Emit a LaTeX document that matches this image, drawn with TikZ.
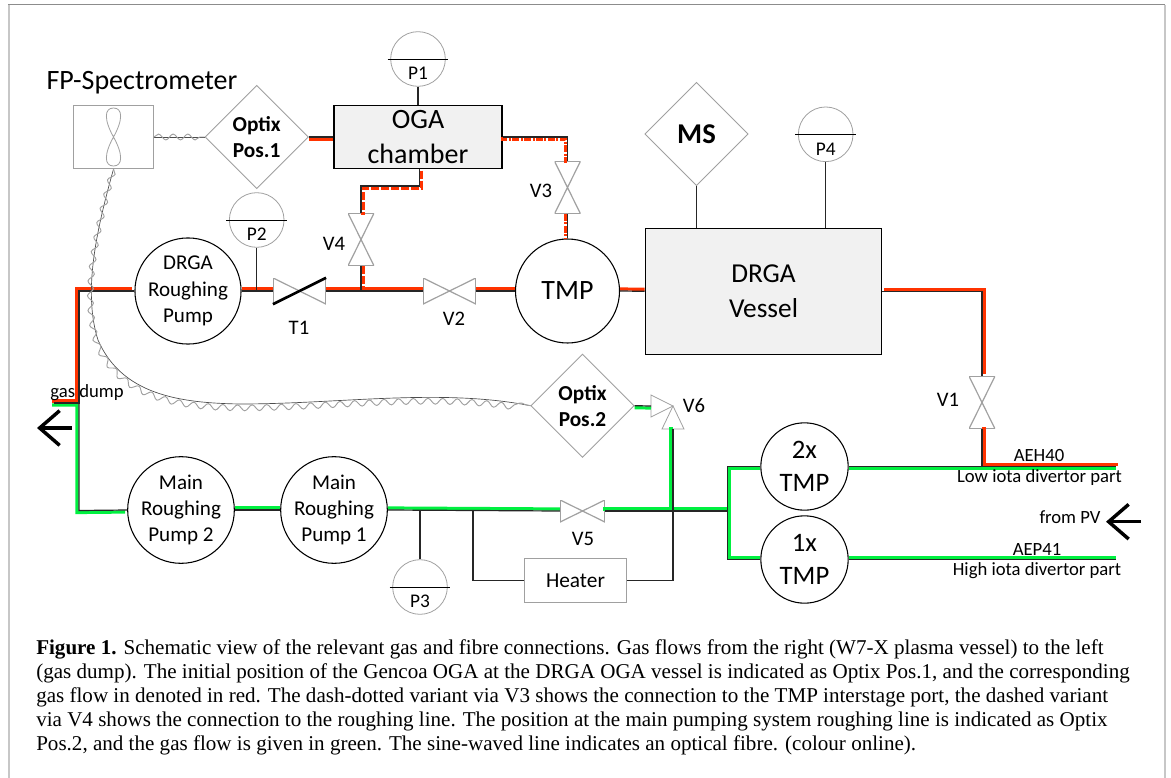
\documentclass[tikz,border=0pt]{standalone}
\usepackage{fontspec}
\setmainfont{Carlito}
\newfontfamily\captionfont{Liberation Serif}
\usetikzlibrary{shapes.geometric,arrows.meta,decorations.pathmorphing}
\definecolor{gasred}{HTML}{FF3300}
\definecolor{gasgreen}{HTML}{00F040}
\definecolor{thingray}{HTML}{A0A0A0}
\definecolor{boxgray}{HTML}{F1F1F1}
\tikzset{
  fsize/.style={font=\fontsize{#1}{\dimexpr#1pt*5/4\relax}\selectfont},
  pump/.style={circle, draw, fill=white, inner sep=0pt, minimum size=78pt, align=center, fsize=15.8, line width=.8pt},
  smallpump/.style={pump, minimum size=65.5pt, fsize=20},
  gauge/.style={circle, draw=thingray, inner sep=0pt, minimum size=41pt, line width=.6pt},
  gaugeline/.style={line width=.7pt},
  optix/.style={diamond, draw=thingray, fill=white, inner sep=0pt, minimum width=77.5pt, minimum height=77.5pt, align=center, font=\fontsize{16}{19.5}\selectfont\bfseries, line width=.6pt},
  chamber/.style={draw, fill=boxgray, inner sep=0pt, align=center, line width=.9pt},
  hvalve/.style={inner sep=0pt, minimum width=39.5pt, minimum height=19.5pt, path picture={\draw[draw=thingray, line width=.9pt] (path picture bounding box.north west) -- (path picture bounding box.south east) -- (path picture bounding box.north east) -- (path picture bounding box.south west) -- cycle;}},
  vvalve/.style={inner sep=0pt, minimum width=19.5pt, minimum height=39.5pt, path picture={\draw[draw=thingray, line width=.9pt] (path picture bounding box.north west) -- (path picture bounding box.south east) -- (path picture bounding box.south west) -- (path picture bounding box.north east) -- cycle;}},
  pipe/.style={draw=black!85, line width=.9pt},
  redflow/.style={draw=gasred, line width=2.4pt},
  greenflow/.style={draw=gasgreen, line width=2.4pt},
  dashvariant/.style={redflow, dash pattern=on 6pt off 1.5pt},
  dotvariant/.style={redflow, dash pattern=on 5pt off 1.2pt on 1.5pt off 1.2pt},
  fibrecore/.style={draw=black!70, line width=.5pt},
  fibre/.style={draw=thingray, line width=.7pt, decorate, decoration={snake, amplitude=2.2pt, segment length=11pt}},
  bigarrow/.style={-{Straight Barb[length=15pt, width=26pt, line width=2.6pt]}, line width=2.6pt},
  lbl/.style={inner sep=0pt, fsize=15.5},
  small/.style={inner sep=0pt, fsize=14}
}
\begin{document}
\begin{tikzpicture}[x=0.75pt, y=-0.75pt]
\useasboundingbox (0,0) rectangle (1171,778);
% page frame
\draw[draw=black!45, line width=.8pt] (8,4.5) -- (1165,4.5);
\draw[draw=black!22, line width=1.5pt] (9,4.5) -- (9,778);
\draw[draw=black!22, line width=1.5pt] (1165,4.5) -- (1165,778);

% vessels and pumps
\node[chamber, minimum width=126pt, minimum height=47.5pt, fsize=21] (oga) at (418,137) {OGA\\chamber};
\node[chamber, minimum width=177.5pt, minimum height=94.5pt, fsize=20.5] (vessel) at (763.5,291.3) {DRGA\\Vessel};
\node[pump] (pumpd) at (188,291) {DRGA\\Roughing\\Pump};
\node[pump, fsize=21] (tmp) at (567.5,291) {TMP};
\node[pump] (pump2) at (181,510) {Main\\Roughing\\Pump 2};
\node[pump] (pump1) at (334,510) {Main\\Roughing\\Pump 1};
\node[smallpump] (tmp2) at (804.5,466.5) {2x\\TMP};
\node[smallpump] (tmp1) at (804.5,559.5) {1x\\TMP};

% diagnostics
\node[optix] (optix1) at (256.7,137) {Optix\\Pos.1};
\node[optix] (optix2) at (582.5,405.7) {Optix\\Pos.2};
\node[optix, font=\fontsize{21.5}{25}\selectfont\bfseries] (ms) at (696.5,134) {MS};
\node[draw=thingray, line width=.6pt, minimum width=60pt, minimum height=47.5pt, inner sep=0pt] (fp) at (113.5,137) {};
\node[draw=thingray, line width=.6pt, minimum width=76.5pt, minimum height=33pt, inner sep=0pt, fsize=16] (heater) at (575.5,580.3) {Heater};
\node[lbl, fsize=21] (fptext) at (142,83) {FP-Spectrometer};

% gauges
\node[gauge, label={[inner sep=0pt, yshift=-11pt, fsize=14.5]center:P1}] (p1) at (418,59) {};
\node[gauge, label={[inner sep=0pt, yshift=-11pt, fsize=14.5]center:P2}] (p2) at (256.7,220) {};
\node[gauge, label={[inner sep=0pt, yshift=-11pt, fsize=14.5]center:P3}] (p3) at (420,587) {};
\node[gauge, label={[inner sep=0pt, yshift=-11pt, fsize=14.5]center:P4}] (p4) at (825.7,134.3) {};
\draw[gaugeline] ([xshift=-2pt]p1.west) -- ([xshift=2pt]p1.east);
\draw[gaugeline] ([xshift=-2pt]p2.west) -- ([xshift=2pt]p2.east);
\draw[gaugeline] ([xshift=-2pt]p3.west) -- ([xshift=2pt]p3.east);
\draw[gaugeline] ([xshift=-2pt]p4.west) -- ([xshift=2pt]p4.east);

% valves
\node[hvalve] (t1) at (299.5,291) {};
\node[hvalve] (v2) at (449.5,291) {};
\node[vvalve] (v3) at (567.5,187.5) {};
\node[vvalve] (v4) at (361,239.5) {};
\node[vvalve] (v1) at (982,402.5) {};
\node[hvalve, minimum width=33.5pt, minimum height=16.5pt] (v5) at (582.5,511) {};
\coordinate (v6) at (673,406);
\coordinate (v6w) at (651,406);
\coordinate (v6s) at (673,429);
\draw[draw=thingray, line width=.6pt] (v6) -- (651,395) -- (651,417) -- cycle;
\draw[draw=thingray, line width=.6pt] (v6) -- (662,429) -- (684,429) -- cycle;
\draw[line width=2pt] (t1.south west) -- (t1.north east);

% bends and ends of the lines
\coordinate (topleft) at (79,291);
\coordinate (dump) at (79,403);
\coordinate (dumpend) at (54,403);
\coordinate (botleft) at (79,510.5);
\coordinate (vesselbend) at (982,291.3);
\coordinate (aehbend) at (982,466.5);
\coordinate (aehend) at (1116,466.5);
\coordinate (aepend) at (1116,559.5);
\coordinate (split) at (727.5,511);
\coordinate (splittop) at (727.5,466.5);
\coordinate (splitbot) at (727.5,559.5);
\coordinate (v6foot) at (673,511);
\coordinate (heatleft) at (473,511);
\coordinate (p3top) at (420,511);
\coordinate (v3bend) at (567.5,137);
\coordinate (v4bend) at (361,186);
\coordinate (ogabend) at (419.5,186);
\coordinate (ogafoot) at (419.5,168.7);

% red gas flow
\draw[redflow, transform canvas={yshift=-1.5pt}] (optix1.east) -- (oga.west);
\draw[redflow, transform canvas={shift={(-1.5pt,1.5pt)}}] (pumpd.west) -- (topleft) -- (dump) -- (dumpend);
\draw[redflow, transform canvas={yshift=1.5pt}] (pumpd.east) -- (t1.west);
\draw[redflow, transform canvas={yshift=1.5pt}] (t1.east) -- (v2.west);
\draw[redflow, transform canvas={yshift=1.5pt}] (v2.east) -- (tmp.west);
\draw[redflow, transform canvas={yshift=1.5pt}] (tmp.east) -- (vessel.west);
\draw[redflow, transform canvas={shift={(1.5pt,1.5pt)}}] (vessel.east) -- (vesselbend) -- (v1.north);
\draw[redflow, transform canvas={shift={(1.5pt,1.5pt)}}] (v1.south) -- (aehbend) -- (aehend);
\draw[dashvariant, transform canvas={shift={(1.5pt,-1.5pt)}}] (ogafoot) -- (ogabend) -- (v4bend) -- (v4.north);
\draw[dashvariant, transform canvas={xshift=1.5pt}] (v4.south) -- (v4.south |- t1.east);
\draw[dotvariant, transform canvas={shift={(-1.5pt,-1.5pt)}}] (oga.east) -- (v3bend) -- (v3.north);
\draw[dotvariant, transform canvas={xshift=-1.5pt}] (v3.south) -- (tmp.north);

% green gas flow
\draw[greenflow, transform canvas={yshift=-1.5pt}] (optix2.east) -- (v6w);
\draw[greenflow, transform canvas={shift={(-1.5pt,-1.5pt)}}] (dumpend) -- (dump) -- (botleft) -- (pump2.west);
\draw[greenflow, transform canvas={yshift=1.5pt}] (pump2.east) -- (pump1.west);
\draw[greenflow, transform canvas={yshift=1.5pt}] (pump1.east) -- (v5.west);
\draw[greenflow, transform canvas={shift={(-1.5pt,1.5pt)}}] (v5.east) -- (v6foot) -- (v6s);
\draw[greenflow, transform canvas={yshift=1.5pt}] (v6foot) -- (split);
\draw[greenflow] ([yshift=-1.5pt]tmp2.west) -- ([shift={(1.5pt,-1.5pt)}]splittop) -- ([shift={(1.5pt,1.5pt)}]splitbot) -- ([yshift=1.5pt]tmp1.west);
\draw[greenflow, transform canvas={yshift=-1.5pt}] (tmp2.east) -- (aehend);
\draw[greenflow, transform canvas={yshift=1.5pt}] (tmp1.east) -- (aepend);

% pipes
\draw[pipe] (optix1.east) -- (oga.west);
\draw[pipe] (pumpd.west) -- (topleft) -- (dump) -- (dumpend);
\draw[pipe] (dump) -- (botleft) -- (pump2.west);
\draw[pipe] (pumpd.east) -- (t1.west);
\draw[pipe] (t1.east) -- (v2.west);
\draw[pipe] (v2.east) -- (tmp.west);
\draw[pipe] (tmp.east) -- (vessel.west);
\draw[pipe] (vessel.east) -- (vesselbend) -- (v1.north);
\draw[pipe] (v1.south) -- (aehbend);
\draw[pipe] (tmp2.east) -- (aehend);
\draw[pipe] (tmp1.east) -- (aepend);
\draw[pipe] (ogafoot) -- (ogabend) -- (v4bend) -- (v4.north);
\draw[pipe] (v4.south) -- (v4.south |- t1.east);
\draw[pipe] (oga.east) -- (v3bend) -- (v3.north);
\draw[pipe] (v3.south) -- (tmp.north);
\draw[pipe] (optix2.east) -- (v6w);
\draw[pipe] (pump2.east) -- (pump1.west);
\draw[pipe] (pump1.east) -- (v5.west);
\draw[pipe] (v5.east) -- (split);
\draw[pipe] (v6foot) -- (v6s);
\draw[pipe] (tmp2.west) -- (splittop) -- (splitbot) -- (tmp1.west);
\draw[pipe] (heatleft) |- (heater.west);
\draw[pipe] (heater.east) -| (v6foot);
\draw[pipe] (p1.south) -- (oga.north);
\draw[pipe] (p2.south) -- (p2.south |- t1.west);
\draw[pipe] (p3.north) -- (p3top);
\draw[pipe] (p4.south) -- (p4.south |- vessel.north);
\draw[pipe] (ms.south) -- (ms.south |- vessel.north);

% fibre
\draw[fibrecore] (fp.east) -- (optix1.west);
\draw[fibre] (fp.east) -- (optix1.west);
\draw[fibrecore] (fp.south) .. controls (98,225) and (82,290) .. (98,340) .. controls (122,395) and (180,403) .. (240,404) .. controls (340,404) and (440,388) .. (optix2.west);
\draw[fibre] (fp.south) .. controls (98,225) and (82,290) .. (98,340) .. controls (122,395) and (180,403) .. (240,404) .. controls (340,404) and (440,388) .. (optix2.west);
\draw[draw=thingray, line width=.6pt] (fp.center) .. controls (104,120) and (104,108) .. (113.5,108) .. controls (123,108) and (123,120) .. (fp.center) .. controls (104,154) and (104,166) .. (113.5,166) .. controls (123,166) and (123,154) .. (fp.center);

% arrows
\coordinate (dumpa) at (72,428);
\coordinate (dumpb) at (37,428);
\coordinate (pva) at (1141,521.7);
\coordinate (pvb) at (1106,521.7);
\draw[bigarrow] (dumpa) -- (dumpb);
\draw[bigarrow] (pva) -- (pvb);

% labels
\node[lbl] (lv1) at (948,400) {V1};
\node[lbl] (lv2) at (454,319) {V2};
\node[lbl] (lv3) at (541,191) {V3};
\node[lbl] (lv4) at (334,244) {V4};
\node[lbl] (lv5) at (583,539) {V5};
\node[lbl] (lv6) at (694,406) {V6};
\node[lbl] (lt1) at (299,328) {T1};
\node[small] (gas) at (87,393) {gas dump};
\node[small] (aeh) at (1039,456) {AEH40};
\node[small] (low) at (1039.5,478) {Low iota divertor part};
\node[small] (frompv) at (1070,517) {from PV};
\node[small] (aep) at (1037,549) {AEP41};
\node[small] (high) at (1037,571) {High iota divertor part};

% caption
\node[anchor=north west, inner sep=0pt, align=left, font=\captionfont\fontsize{15.8}{18}\selectfont] (caption) at (36,639) {\textbf{Figure 1.} Schematic view of the relevant gas and fibre connections. Gas flows from the right (W7-X plasma vessel) to the left\\
(gas dump). The initial position of the Gencoa OGA at the DRGA OGA vessel is indicated as Optix Pos.1, and the corresponding\\
gas flow in denoted in red. The dash-dotted variant via V3 shows the connection to the TMP interstage port, the dashed variant\\
via V4 shows the connection to the roughing line. The position at the main pumping system roughing line is indicated as Optix\\
Pos.2, and the gas flow is given in green. The sine-waved line indicates an optical fibre. (colour online).};
\end{tikzpicture}
\end{document}
